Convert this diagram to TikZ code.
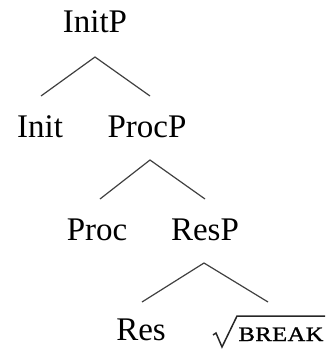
\documentclass[tikz,border=0pt]{standalone}
\usepackage{fontspec}
\setmainfont{Liberation Serif}
\newfontfamily\rootfont[FakeStretch=1.2,LetterSpace=2,FakeBold=1.2]{Liberation Serif}
\tikzset{
  lbl/.style={anchor=base, inner sep=0pt, font=\fontsize{33}{36}\selectfont},
  rootlbl/.style={anchor=base, inner sep=0pt, font=\rootfont\fontsize{20.5}{22}\selectfont},
  branch/.style={line width=1.2pt, draw=black!75},
  radical/.style={line width=1.5pt, draw=black!85, line join=miter}
}
\begin{document}
\begin{tikzpicture}[x=1pt,y=-1pt]
  \useasboundingbox (0,0) rectangle (331,353);
  % labels
  \node[lbl] (initp) at (95,33) {InitP};
  \node[lbl] (init)  at (40,137) {Init};
  \node[lbl] (procp) at (147,137) {ProcP};
  \node[lbl] (proc)  at (97,240) {Proc};
  \node[lbl] (resp)  at (205,240) {ResP};
  \node[lbl] (res)   at (141,340) {Res};
  \node[rootlbl] (root) at (281,341) {BREAK};
  % radical sign over the root
  \coordinate (rad0) at (213,335); \coordinate (rad1) at (216,333);
  \coordinate (rad2) at (222,347); \coordinate (rad3) at (237,316);
  \coordinate (rad4) at (325,316);
  \draw[radical] (rad0) -- (rad1) -- (rad2) -- (rad3) -- (rad4);
  % branching points
  \coordinate (a1) at (95,57);   \coordinate (l1) at (41,96);   \coordinate (r1) at (150,96);
  \coordinate (a2) at (150,160); \coordinate (l2) at (100,199); \coordinate (r2) at (205,199);
  \coordinate (a3) at (204,263); \coordinate (l3) at (142,302); \coordinate (r3) at (268,302);
  \draw[branch] (l1) -- (a1) -- (r1);
  \draw[branch] (l2) -- (a2) -- (r2);
  \draw[branch] (l3) -- (a3) -- (r3);
\end{tikzpicture}
\end{document}
